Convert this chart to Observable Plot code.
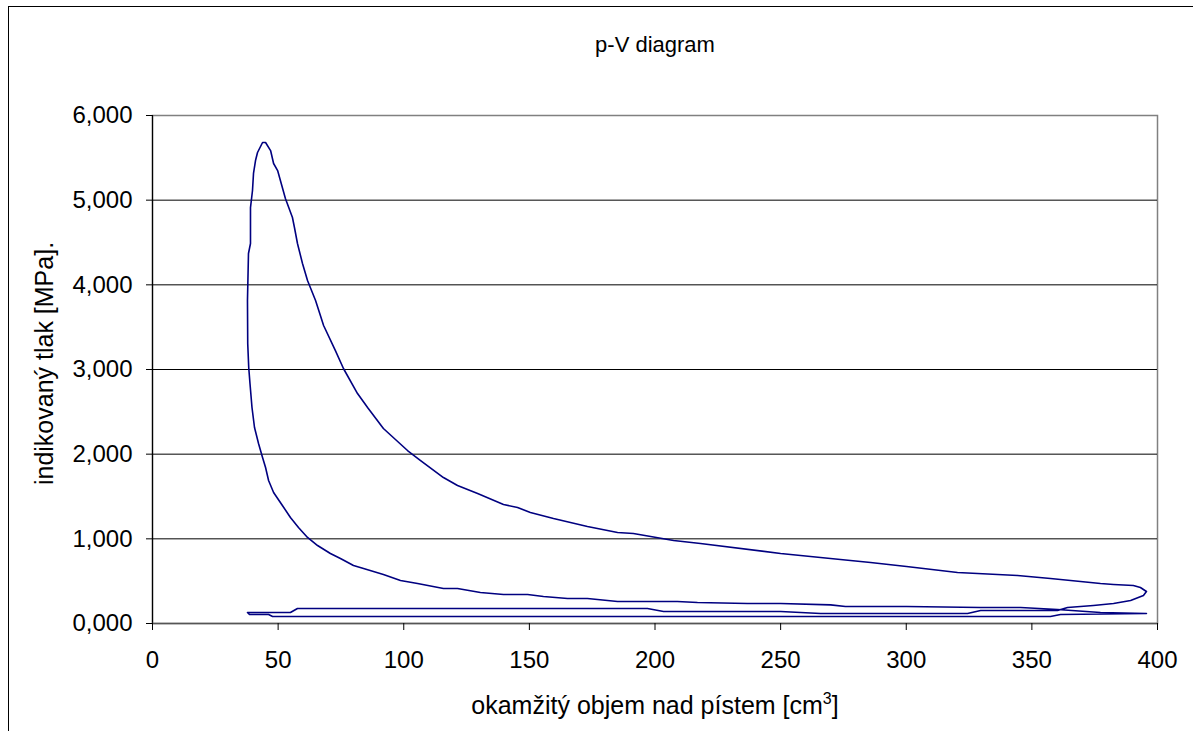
<!DOCTYPE html>
<html>
<head>
<meta charset="utf-8">
<script src="https://cdn.jsdelivr.net/npm/d3@7"></script>
<script src="https://cdn.jsdelivr.net/npm/@observablehq/plot@0.6"></script>
<style>
  html, body { margin: 0; padding: 0; background: #fff; }
  #wrap { position: relative; width: 1193px; height: 731px; overflow: hidden; font-family: "Liberation Sans", Arial, sans-serif; }
  #frame { position: absolute; left: 8px; top: 6px; width: 1300px; height: 800px; border-top: 1.5px solid #000; border-left: 1.5px solid #000; }
  #title { position: absolute; left: 0; width: 1310px; top: 32px; text-align: center; font-size: 22px; color: #000; }
  #chart { position: absolute; left: 0; top: 0; }
</style>
</head>
<body>
<div id="wrap">
  <div id="frame"></div>
  <div id="title">p-V diagram</div>
  <div id="chart"></div>
</div>
<script>
// volume [cm3] and indicated pressure [MPa], in cycle order
const volume = [
  395.6,377.3,360.2,345.5,329.6,300.1,275.8,269.9,250,236.8,216.9,208.9,191.4,185.1,173.1,165.2,155.6,149.3,139.7,130.5,121.4,115.8,105.5,98.7,91.9,84.0,80.0,74.8,70.8,65.7,61.7,58.1,54.9,51.7,48.2,46.2,45.0,43.8,42.2,40.6,39.6,38.8,38.3,37.9,37.8,38.2,39.0,39.0,39.8,40.2,41.0,41.8,43.8,
  45.0,47.0,48.2,49.8,52.9,55.7,56.5,57.7,59.7,61.7,64.9,68.1,72.8,76.0,81.6,85.6,91.9,101.5,106.7,115.8,121.4,129.4,139.7,145.3,150.4,159.6,173.1,185.1,191.4,207.4,218.1,250,273.8,285.8,300.1,320.4,344.3,357.4,365.4,377.3,382.5,390.4,393.2,395.6,
  394.4,389.3,382.5,374.5,364.2,360.2,
  329.6,324.4,265.9,250,203.4,197.0,57.7,54.9,37.8,
  38.6,46.2,47.8,357.4,361.4,395.6
];
const pressure = [
  0.118,0.13,0.165,0.189,0.189,0.20,0.20,0.22,0.236,0.236,0.248,0.26,0.26,0.26,0.295,0.295,0.319,0.343,0.343,0.366,0.413,0.413,0.472,0.508,0.579,0.65,0.685,0.768,0.827,0.921,1.016,1.134,1.252,1.394,1.547,1.689,1.842,1.961,2.126,2.315,2.551,2.835,3.024,3.307,3.815,4.37,4.488,4.913,5.114,5.315,5.468,5.563,5.681,
  5.681,5.586,5.433,5.35,5.02,4.795,4.677,4.488,4.252,4.051,3.815,3.52,3.224,3.012,2.716,2.551,2.303,2.043,1.925,1.724,1.63,1.535,1.405,1.37,1.311,1.24,1.146,1.075,1.063,0.98,0.945,0.827,0.756,0.72,0.673,0.602,0.567,0.531,0.508,0.472,0.461,0.449,0.425,0.378,
  0.331,0.272,0.236,0.213,0.189,0.154,
  0.154,0.118,0.118,0.142,0.142,0.177,0.177,0.13,0.13,
  0.106,0.106,0.083,0.083,0.106,0.118
];
const xTicks = [0, 50, 100, 150, 200, 250, 300, 350, 400];
const yTicks = [0, 1, 2, 3, 4, 5, 6];
const gridLines = [1, 2, 3, 4, 5];
const xTitle = "okamžitý objem nad pístem [cm3]";
const yTitle = "indikovaný tlak [MPa].";

const data = volume.map((v, i) => ({v, p: pressure[i]}));
const fmtY = d => d3.format(".3f")(d).replace(".", ",");

const chart = Plot.plot({
  width: 1193,
  height: 731,
  marginLeft: 152,
  marginRight: 36,
  marginTop: 115,
  marginBottom: 108,
  style: {fontFamily: "Liberation Sans, Arial, sans-serif", fontSize: "24px", color: "#000", background: "transparent"},
  x: {domain: [0, 400], label: null},
  y: {domain: [0, 6], label: null},
  marks: [
    Plot.frame({stroke: "#808080", strokeWidth: 1.5}),
    Plot.ruleY(gridLines, {stroke: "#000", strokeWidth: 1}),
    Plot.ruleX([0], {stroke: "#000", strokeWidth: 1.2}),
    Plot.ruleY([0], {stroke: "#555", strokeWidth: 1.5}),
    Plot.axisX({ticks: xTicks, tickSize: 7, tickPadding: 20, fontSize: 24, stroke: "#000", label: null}),
    Plot.axisY({ticks: yTicks, tickSize: 6, tickPadding: 14, tickFormat: fmtY, fontSize: 24, stroke: "#000", label: null}),
    Plot.line(data, {x: "v", y: "p", stroke: "#000080", strokeWidth: 1.6, curve: "linear"}),
    Plot.text([xTitle], {frameAnchor: "bottom", dy: 90, fontSize: 25, fill: "#000", className: "xtitle"}),
    Plot.text([yTitle], {frameAnchor: "left", dx: -108, dy: -6, rotate: -90, textAnchor: "middle", fontSize: 25, fill: "#000"})
  ]
});
document.getElementById("chart").appendChild(chart);

// superscript the "3" in the x title
const xt = chart.querySelector(".xtitle text");
if (xt) {
  xt.textContent = "";
  const ns = "http://www.w3.org/2000/svg";
  const a = document.createElementNS(ns, "tspan"); a.textContent = "okamžitý objem nad pístem [cm";
  const b = document.createElementNS(ns, "tspan"); b.textContent = "3"; b.setAttribute("font-size", "16"); b.setAttribute("dy", "-10");
  const c = document.createElementNS(ns, "tspan"); c.textContent = "]"; c.setAttribute("dy", "10");
  xt.append(a, b, c);
}
</script>
</body>
</html>
